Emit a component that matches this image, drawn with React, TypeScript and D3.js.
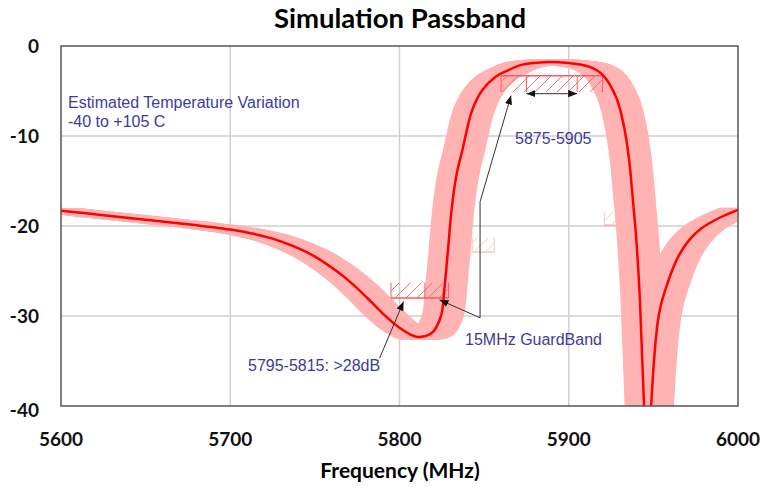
import * as d3 from 'd3';

// simulated passband, nominal temperature
const freq = [5600, 5625, 5650, 5675, 5700, 5712, 5725, 5738, 5750, 5762, 5772, 5781, 5790, 5800, 5810, 5819,
  5824.5, 5826.5, 5828.5, 5831, 5834, 5837, 5843, 5849, 5857, 5863, 5872, 5885, 5900, 5912, 5920, 5928,
  5932.7, 5935.7, 5937.5, 5939.8, 5942, 5944.5, 5946.8, 5948.7, 5953.4, 5959, 5965, 5971, 5978, 5990, 6000];
const gain = [-18.3, -18.8, -19.3, -19.8, -20.4, -20.8, -21.4, -22.3, -23.4, -24.9, -26.4, -28.0, -29.7, -31.3, -32.3, -31.9,
  -30.0, -27.0, -23.0, -17.8, -14.0, -11.7, -7.1, -4.9, -3.4, -2.8, -2.1, -1.8, -1.9, -2.3, -3.2, -5.7,
  -9.0, -12.7, -16.3, -21.2, -28, -40, -58, -40, -29.7, -26, -23.3, -21.6, -20.3, -19.0, -18.2];

// temperature drift of the response, MHz (-40 to +105 C)
const driftLow = -10;
const driftHigh = 12;

const xTicks = [5600, 5700, 5800, 5900, 6000];
const yTicks = [0, -10, -20, -30, -40];

// spec masks: [f0, f1, dB top, dB bottom], dividers
const passMask = [5860, 5920, -3.3, -5.1];
const passDividers = [5875, 5905];
const rejMask = [5795, 5829, -26.3, -28];
const rejDividers = [5815];
const ghostMasks = [[5843, 5856, -21.3, -22.9], [5921, 5940, -18.4, -19.9]];

const W = 760;
const H = 487;
const m = { left: 61, right: 22, top: 46, bottom: 81 };

const labelColor = '#3c3c96';
const tickFont = 'Lato, "Open Sans", sans-serif';
const noteFont = '"Liberation Sans", Arial, sans-serif';

export default function App() {
  const x = d3.scaleLinear().domain([5600, 6000]).range([m.left, W - m.right]);
  const y = d3.scaleLinear().domain([-40, 0]).range([H - m.bottom, m.top]);
  const pts = freq.map((f, i) => [f, gain[i]] as [number, number]);

  const lineAt = (shift: number) =>
    d3.line<[number, number]>()
      .x(d => x(d[0] + shift))
      .y(d => y(d[1]))
      .curve(d3.curveCatmullRom.alpha(0.5))(pts) as string;

  const shifts = d3.range(driftLow, driftHigh + 0.01, 0.5);

  const mask = (mk: number[], dividers: number[], solidTop: boolean, key: string, opacity = 1) => {
    const [f0, f1, t, b] = mk;
    const x0 = x(f0), x1 = x(f1), y0 = y(t), y1 = y(b);
    const ys = solidTop ? y0 : y1;
    return (
      <g key={key} opacity={opacity} stroke="#ff5a5a" strokeWidth={1} fill="none">
        <rect x={x0} y={y0} width={x1 - x0} height={y1 - y0} fill="url(#hatch)" stroke="none" />
        <line x1={x0} x2={x1} y1={ys} y2={ys} strokeWidth={1.5} />
        {[f0, ...dividers, f1].map(f => (
          <line key={f} x1={x(f)} x2={x(f)} y1={y0} y2={y1} />
        ))}
      </g>
    );
  };

  const arrow = (p0: [number, number], p1: [number, number], key: string, both = false) => (
    <line key={key} x1={x(p0[0])} y1={y(p0[1])} x2={x(p1[0])} y2={y(p1[1])}
      stroke="#333" strokeWidth={1} markerEnd="url(#ah)" markerStart={both ? 'url(#ahs)' : undefined} />
  );

  const gx = x(5847.6);

  return (
    <svg width={W} height={H} style={{ position: 'absolute', left: 0, top: 0, background: '#fff' }}>
      <defs>
        <clipPath id="plot">
          <rect x={m.left} y={m.top} width={W - m.left - m.right} height={H - m.top - m.bottom} />
        </clipPath>
        <pattern id="hatch" patternUnits="userSpaceOnUse" width={11} height={11}>
          <line x1={0} y1={11} x2={11} y2={0} stroke="#ff6a6a" strokeWidth={1} />
        </pattern>
        <marker id="ah" viewBox="0 0 10 10" refX={10} refY={5} markerWidth={9} markerHeight={9}
          markerUnits="userSpaceOnUse" orient="auto">
          <path d="M0,1 L10,5 L0,9 Z" fill="#111" />
        </marker>
        <marker id="ahs" viewBox="0 0 10 10" refX={0} refY={5} markerWidth={9} markerHeight={9}
          markerUnits="userSpaceOnUse" orient="auto">
          <path d="M10,1 L0,5 L10,9 Z" fill="#111" />
        </marker>
      </defs>

      <text x={400} y={28} textAnchor="middle" fontFamily={tickFont} fontWeight={700} fontSize={27.5}>
        Simulation Passband
      </text>

      {/* grid */}
      {xTicks.slice(1, -1).map(t => (
        <line key={'gx' + t} x1={x(t)} x2={x(t)} y1={m.top} y2={H - m.bottom} stroke="#cfcfcf" strokeWidth={1.5} />
      ))}
      {yTicks.slice(1, -1).map(t => (
        <line key={'gy' + t} x1={m.left} x2={W - m.right} y1={y(t)} y2={y(t)} stroke="#cfcfcf" strokeWidth={1.5} />
      ))}

      <g clipPath="url(#plot)">
        {ghostMasks.map((g, i) => mask(g, [], false, 'gm' + i, 0.35))}
        {shifts.map(s => (
          <path key={'b' + s} d={lineAt(s)} fill="none" stroke="#ffb3b3" strokeWidth={5} strokeLinejoin="round" />
        ))}
        {mask(passMask, passDividers, true, 'pm')}
        {mask(rejMask, rejDividers, false, 'rm')}
        <path d={lineAt(0)} fill="none" stroke="#ff0000" strokeWidth={2.5} />
      </g>

      {/* annotations */}
      {arrow([passDividers[0], -5.3], [passDividers[1], -5.3], 'a1', true)}
      <line x1={gx} x2={gx} y1={y(-17.3)} y2={y(-30.2)} stroke="#333" strokeWidth={1} />
      {arrow([5847.6, -17.3], [5865.9, -5.5], 'a2')}
      {arrow([5847.6, -30.2], [5823.6, -28.2], 'a3')}
      {arrow([5788.2, -34.7], [5802.4, -28.4], 'a4')}

      <g fontFamily={noteFont} fontSize={16} fill={labelColor}>
        <text x={68} y={108}>Estimated Temperature Variation</text>
        <text x={68} y={127}>-40 to +105 C</text>
        <text x={515} y={144}>5875-5905</text>
        <text x={465} y={345}>15MHz GuardBand</text>
        <text x={248} y={371}>5795-5815: &gt;28dB</text>
      </g>

      <rect x={m.left} y={m.top} width={W - m.left - m.right} height={H - m.top - m.bottom}
        fill="none" stroke="#555" strokeWidth={1.5} />

      {/* axes labels */}
      <g fontFamily={tickFont} fontWeight={700} fontSize={19} fill="#111">
        {xTicks.map(t => (
          <text key={'tx' + t} x={x(t)} y={446} textAnchor="middle">{t}</text>
        ))}
        {yTicks.map(t => (
          <text key={'ty' + t} x={39} y={y(t) + 7 + (t === -40 ? 4 : 0)} textAnchor="end">{t}</text>
        ))}
      </g>
      <text x={400} y={478} textAnchor="middle" fontFamily={tickFont} fontWeight={700} fontSize={21}>
        Frequency (MHz)
      </text>
    </svg>
  );
}
